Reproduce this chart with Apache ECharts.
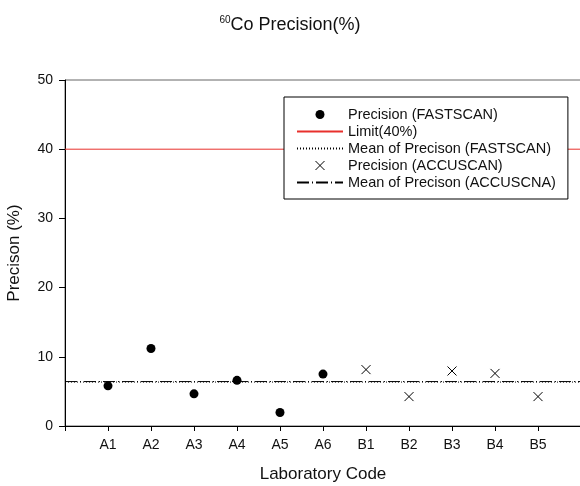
<!DOCTYPE html>
<html><head><meta charset="utf-8">
<script src="https://cdn.jsdelivr.net/npm/echarts@6/dist/echarts.min.js"></script>
<style>html,body{margin:0;padding:0;background:#fff}#c{width:580px;height:486px}</style>
</head><body><div id="c"></div>
<script>
var categories = ['A1','A2','A3','A4','A5','A6','B1','B2','B3','B4','B5'];
var fastscanLabs = ['A1','A2','A3','A4','A5','A6'];
var fastscanValues = [5.8, 11.2, 4.65, 6.6, 1.95, 7.5];
var accuscanLabs = ['B1','B2','B3','B4','B5'];
var accuscanValues = [8.15, 4.25, 7.95, 7.6, 4.25];
var limitValue = 40;
var meanFastscan = 6.35;
var meanAccuscan = 6.42;
var yTicks = [0, 10, 20, 30, 40, 50];

var xMin = 0, xMax = categories.length + 1;
function pos(lab){ return categories.indexOf(lab) + 1; }
function hline(v){ return [[xMin, v], [xMax, v]]; }

var crossPath = 'path://M0,0L10,10M10,0L0,10';
var chart = echarts.init(document.getElementById('c'));
var font = 'Liberation Sans, Arial, sans-serif';
var noSym = { opacity: 0 };
chart.setOption({
  animation: false,
  textStyle: { fontFamily: font },
  title: {
    text: '{sup|60}{main|Co Precision(%)}',
    left: 'center', top: 10,
    textStyle: {
      rich: {
        sup: { fontSize: 10, color: '#111', fontFamily: font, fontWeight: 'normal', verticalAlign: 'top', padding: [0, 0, 11, 0] },
        main: { fontSize: 18, color: '#111', fontFamily: font, fontWeight: 'normal' }
      }
    }
  },
  grid: { left: 65, right: -1, top: 80, bottom: 60, show: true, borderColor: '#666', borderWidth: 1,
          containLabel: false, outerBoundsMode: 'none' },
  legend: {
    orient: 'vertical', left: 284, top: 97,
    padding: [10, 12, 9, 12],
    itemWidth: 46, itemHeight: 9, itemGap: 2,
    borderColor: '#000', borderWidth: 1, backgroundColor: '#fff',
    textStyle: { fontSize: 14.5, color: '#111', lineHeight: 15, fontFamily: font },
    symbolKeepAspect: true,
    data: [
      { name: 'Precision (FASTSCAN)' },
      { name: 'Limit(40%)', itemStyle: noSym },
      { name: 'Mean of Precison (FASTSCAN)', itemStyle: noSym },
      { name: 'Precision (ACCUSCAN)', itemStyle: { color: 'none', borderColor: '#000', borderWidth: 1 } },
      { name: 'Mean of Precison (ACCUSCNA)', itemStyle: noSym }
    ]
  },
  xAxis: {
    type: 'value', min: xMin, max: xMax, interval: 1,
    name: 'Laboratory Code', nameLocation: 'middle', nameGap: 40,
    nameTextStyle: { fontSize: 17, color: '#111' },
    axisLine: { show: true, onZero: false, lineStyle: { color: '#000' } },
    axisTick: { show: true, length: 5, lineStyle: { color: '#000' } },
    axisLabel: { margin: 12, fontSize: 14, color: '#111',
      formatter: function(v){ return categories[v - 1] || ''; } },
    splitLine: { show: false }
  },
  yAxis: {
    type: 'value', min: yTicks[0], max: yTicks[yTicks.length - 1], interval: 10,
    name: 'Precison (%)', nameLocation: 'middle', nameGap: 42,
    nameTextStyle: { fontSize: 17, color: '#111' },
    axisLine: { show: true, lineStyle: { color: '#000' } },
    axisTick: { show: true, length: 6, lineStyle: { color: '#000' } },
    axisLabel: { margin: 12, fontSize: 14, color: '#111' },
    splitLine: { show: false }
  },
  series: [
    { name: 'Precision (FASTSCAN)', type: 'scatter', symbol: 'circle', symbolSize: 9,
      itemStyle: { color: '#000', opacity: 1 }, z: 5,
      data: fastscanLabs.map(function(l, i){ return [pos(l), fastscanValues[i]]; }) },
    { name: 'Limit(40%)', type: 'line', symbol: 'none', lineStyle: { color: '#e8302c', width: 1 },
      itemStyle: { color: '#e8302c' }, data: hline(limitValue), z: 2 },
    { name: 'Mean of Precison (FASTSCAN)', type: 'line', symbol: 'none',
      lineStyle: { color: '#000', width: 1, type: [1, 2] }, itemStyle: { color: '#000' },
      data: hline(meanFastscan), z: 3 },
    { name: 'Precision (ACCUSCAN)', type: 'scatter', symbol: crossPath, symbolSize: 9,
      itemStyle: { color: 'none', borderColor: '#000', borderWidth: 1, opacity: 1 }, z: 5,
      data: accuscanLabs.map(function(l, i){ return [pos(l), accuscanValues[i]]; }) },
    { name: 'Mean of Precison (ACCUSCNA)', type: 'line', symbol: 'none',
      lineStyle: { color: '#000', width: 1, type: [12, 3, 1, 3] }, itemStyle: { color: '#000' },
      data: hline(meanAccuscan), z: 3 }
  ]
});
</script></body></html>
